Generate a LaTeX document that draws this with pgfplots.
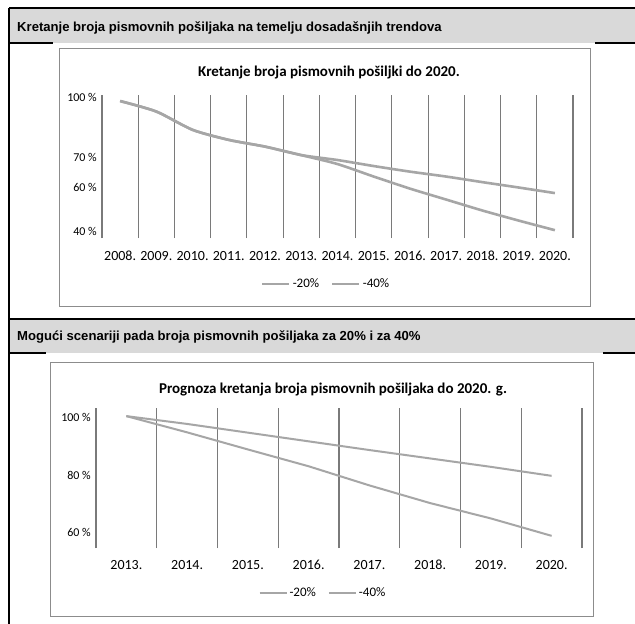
\documentclass[border=0pt]{standalone}
\usepackage{pgfplots}
\pgfplotsset{compat=1.18}
\usepackage{fontspec}
\setmainfont{Carlito}
\newfontfamily\arialfont{Liberation Sans}
\definecolor{hdr}{HTML}{D9D9D9}
\definecolor{ser}{HTML}{A6A6A6}
\definecolor{gridc}{HTML}{7A7A7A}
\definecolor{boxc}{HTML}{8C8C8C}
\pgfplotsset{
  excelstyle/.style={
    scale only axis, anchor=south west,
    axis line style={draw=none},
    x axis line style={draw=none},
    y axis line style={draw=none},
    every outer x axis line/.append style={draw=none},
    every outer y axis line/.append style={draw=none},
    major tick length=0pt, minor tick length=0pt,
    tick style={draw=none},
    xminorgrids=true,
    minor grid style={gridc, line width=1.1bp},
    /pgf/number format/assume math mode=true,
    xticklabel style={anchor=base, inner sep=0pt, font=\fontsize{14bp}{16bp}\selectfont},
    yticklabel style={anchor=east, inner sep=0pt, xshift=-5bp, font=\fontsize{12bp}{14bp}\selectfont},
    legend columns=2,
    legend image code/.code={\draw[#1] (0bp,0bp) -- (27bp,0bp);},
    legend style={draw=none, fill=none, font=\fontsize{13bp}{15bp}\selectfont,
      /tikz/every even column/.append style={column sep=10bp}},
    clip=false,
  }
}
\begin{document}
\begin{tikzpicture}
\useasboundingbox (0,0) rectangle (635bp,-624bp);
% header bands
\fill[hdr] (9bp,-8bp) rectangle (635bp,-43bp);
\fill[hdr] (9bp,-319bp) rectangle (635bp,-353bp);
\begin{scope}[line width=1.2bp, black]
\draw (9bp,-8bp) -- (635bp,-8bp);
\draw (9bp,-8bp) -- (9bp,-624bp);
\draw (9bp,-43bp) -- (53bp,-43bp);
\draw (595bp,-43bp) -- (635bp,-43bp);
\draw (9bp,-319bp) -- (635bp,-319bp);
\draw (9bp,-353bp) -- (46bp,-353bp);
\draw (603bp,-353bp) -- (635bp,-353bp);
\end{scope}
\node[anchor=base west, inner sep=0pt, font=\arialfont\bfseries\fontsize{13.1bp}{15bp}\selectfont] at (17bp,-31.5bp) {Kretanje broja pismovnih pošiljaka na temelju dosadašnjih trendova};
\node[anchor=base west, inner sep=0pt, font=\arialfont\bfseries\fontsize{13.1bp}{15bp}\selectfont] at (17bp,-340.5bp) {Mogući scenariji pada broja pismovnih pošiljaka za 20\% i za 40\%};
% chart boxes
\draw[boxc, line width=1bp, fill=white] (59bp,-48bp) rectangle (590bp,-306bp);
\draw[boxc, line width=1bp, fill=white] (50bp,-362bp) rectangle (593bp,-616bp);
\node[anchor=base, inner sep=0pt, font=\bfseries\fontsize{15bp}{17bp}\selectfont] at (329bp,-76bp) {Kretanje broja pismovnih pošiljki do 2020.};
\node[anchor=base, inner sep=0pt, font=\bfseries\fontsize{15bp}{17bp}\selectfont] at (333bp,-393bp) {Prognoza kretanja broja pismovnih pošiljaka do 2020. g.};

% chart 1
\begin{axis}[excelstyle,
  at={(102bp,-238bp)}, width=471bp, height=143bp,
  xmin=-0.5, xmax=12.5, ymin=36.9, ymax=100.9,
  xtick={0,...,12},
  xticklabels={2008.,2009.,2010.,2011.,2012.,2013.,2014.,2015.,2016.,2017.,2018.,2019.,2020.},
  minor xtick={-0.5,0.5,...,12.5},
  xticklabel style={yshift=-22bp},
  ytick={40,59.7,73.1,100},
  yticklabels={40 \%,60 \%,70 \%,100 \%},
  legend style={at={(axis description cs:0.476,-0.322)}, anchor=center},
]
\addplot[ser, line width=2.6bp, smooth, tension=0.4] coordinates {
(0,98.2)(1,93.5)(2,85.3)(3,80.8)(4,77.8)(5,74.0)(6,71.8)(7,69.1)(8,66.6)(9,64.4)(10,61.9)(11,59.5)(12,57.0)};
\addlegendentry{-20\%}
\addplot[ser, line width=2.6bp, smooth, tension=0.4] coordinates {
(0,98.2)(1,93.5)(2,85.3)(3,80.8)(4,77.8)(5,74.0)(6,70.0)(7,64.4)(8,59.0)(9,54.1)(10,49.2)(11,44.7)(12,40.4)};
\addlegendentry{-40\%}
\end{axis}

% chart 2
\begin{axis}[excelstyle,
  at={(96bp,-548bp)}, width=486bp, height=140bp,
  xmin=-0.5, xmax=7.5, ymin=54.8, ymax=103.1,
  xtick={0,...,7},
  xticklabels={2013.,2014.,2015.,2016.,2017.,2018.,2019.,2020.},
  minor xtick={-0.5,0.5,...,7.5},
  xticklabel style={yshift=-21bp},
  ytick={60,80,100},
  yticklabels={60 \%,80 \%,100 \%},
  legend style={at={(axis description cs:0.467,-0.321)}, anchor=center},
]
\addplot[ser, line width=2bp] coordinates {
(0,100.3)(1,97.6)(2,94.6)(3,91.6)(4,88.6)(5,85.7)(6,82.8)(7,79.7)};
\addlegendentry{-20\%}
\addplot[ser, line width=2bp] coordinates {
(0,100.3)(1,94.7)(2,88.8)(3,83.0)(4,76.4)(5,70.3)(6,65.0)(7,59.0)};
\addlegendentry{-40\%}
\end{axis}
\end{tikzpicture}
\end{document}
